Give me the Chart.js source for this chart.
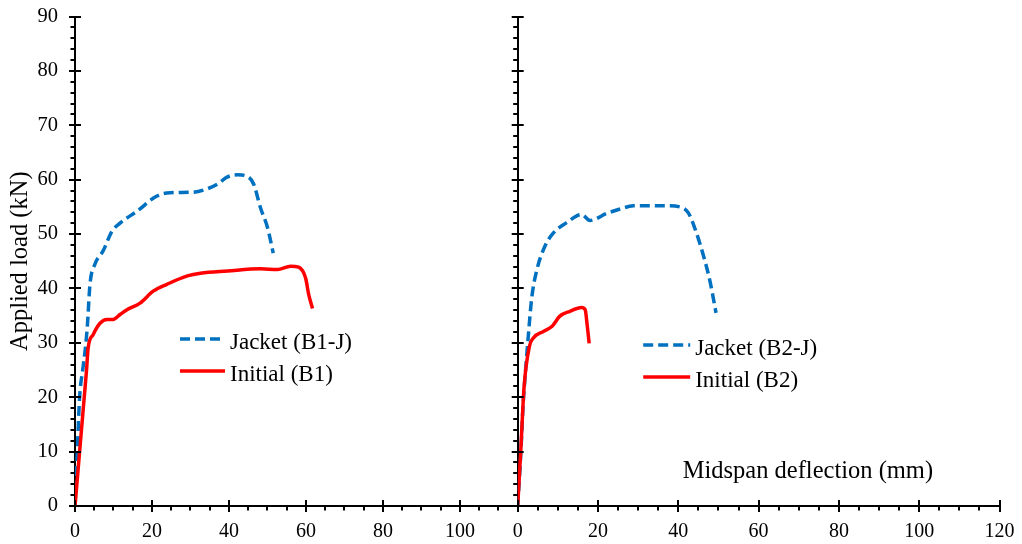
<!DOCTYPE html>
<html>
<head>
<meta charset="utf-8">
<title>Load-deflection B1 / B2</title>
<script src="https://cdn.jsdelivr.net/npm/chart.js@4/dist/chart.umd.min.js"></script>
<style>
  body { margin: 0; background: #fff; }
  #wrap { position: relative; width: 1022px; height: 544px; }
  canvas { position: absolute; top: 0; }
  #leftChart { left: 0; }
  #rightChart { left: 500px; }
</style>
</head>
<body>
<div id="wrap">
  <canvas id="leftChart" width="540" height="544"></canvas>
  <canvas id="rightChart" width="522" height="544"></canvas>
</div>
<script>
// ---- data (deflection mm / load kN) ----
var b1jX = [0, 0.3, 0.6, 1.2, 2.0, 2.6, 3.2, 3.9, 5.2, 7.3, 9.6, 11.7, 16.1, 21.3, 24.7, 30.8, 34.3, 37.0, 39.6, 42.2, 45.0, 46.4, 48.2, 50.0, 51.5];
var b1jY = [0, 5, 10, 20, 25, 28.4, 33, 40.8, 44.5, 46.9, 50.5, 52, 54.2, 57, 57.6, 57.7, 58.3, 59.2, 60.5, 60.9, 60.5, 59.2, 54.8, 51.2, 46.5];
var b1X = [0, 1.2, 2.4, 3.0, 3.4, 4.7, 6.5, 8.3, 9.9, 11.7, 13.5, 16.9, 20.3, 24.0, 29.2, 32.6, 39.6, 48.2, 52.6, 56.0, 58.1, 59.9, 60.7, 61.7];
var b1Y = [0, 10, 20, 25, 29, 31.5, 33.6, 34.3, 34.3, 35.2, 36.1, 37.3, 39.5, 40.8, 42.3, 42.8, 43.2, 43.6, 43.5, 44.1, 43.9, 41.9, 38.9, 36.3];
var b2jX = [0, 0.8, 1.3, 1.8, 2.6, 3.5, 4.7, 6.8, 8.9, 12.2, 15.9, 18.0, 22.2, 25.5, 28.8, 37.1, 40.8, 42.5, 44.1, 46.2, 47.9, 49.4];
var b2jY = [0, 10, 18, 23.4, 30.9, 38.3, 43.2, 47.8, 50.2, 52.1, 53.6, 52.5, 53.8, 54.6, 55.2, 55.2, 54.9, 53.9, 51.1, 46.2, 41.3, 35.5];
var b2X = [0, 0.75, 1.6, 2.9, 3.9, 6.4, 8.5, 10.5, 13.0, 15.9, 16.8, 17.3, 17.8];
var b2Y = [0, 10, 22, 29.3, 30.9, 32.1, 33.0, 34.9, 35.8, 36.5, 36.1, 33.3, 29.9];

// tick labels
var yTicks = [0, 10, 20, 30, 40, 50, 60, 70, 80, 90];
var xTicksLeft = [0, 20, 40, 60, 80, 100];
var xTicksRight = [0, 20, 40, 60, 80, 100, 120];

var serif = '"Liberation Serif", "Times New Roman", serif';
Chart.defaults.font.family = serif;
Chart.defaults.color = '#000';

function pts(xs, ys) { // zip two arrays into {x,y} points
    return xs.map(function (x, i) { return { x: x, y: ys[i] }; });
}

function jacketSet(label, xs, ys) {
    return {
        label: label, data: pts(xs, ys), order: 1,
        borderColor: '#0070C0', borderWidth: 3.5, borderDash: [10, 5],
        pointRadius: 0, fill: false, cubicInterpolationMode: 'monotone'
    };
}
function initialSet(label, xs, ys) {
    return {
        label: label, data: pts(xs, ys), order: 0,
        borderColor: '#FF0000', borderWidth: 3.5,
        pointRadius: 0, fill: false, cubicInterpolationMode: 'monotone'
    };
}

/* major ticks cross the axis, minor ticks sit outside */
var axisMarks = {
    id: 'axisMarks',
    afterDraw: function (chart, args, opts) {
        var ctx = chart.ctx, xs = chart.scales.x, ys = chart.scales.y, a = chart.chartArea;
        ctx.save();
        ctx.strokeStyle = '#000';
        ctx.lineWidth = 2;
        ctx.beginPath();
        for (var v = xs.min; v <= xs.max + 0.001; v += opts.xMinor) {
            var px = Math.round(xs.getPixelForValue(v));
            if (v % opts.xMajor === 0) { ctx.moveTo(px, a.bottom - 6); ctx.lineTo(px, a.bottom + 6); }
            else { ctx.moveTo(px, a.bottom); ctx.lineTo(px, a.bottom + 4.5); }
        }
        for (var w = ys.min; w <= ys.max + 0.001; w += opts.yMinor) {
            var py = Math.round(ys.getPixelForValue(w));
            if (w % opts.yMajor === 0) { ctx.moveTo(a.left - 6, py); ctx.lineTo(a.left + 6, py); }
            else { ctx.moveTo(a.left - 4.5, py); ctx.lineTo(a.left, py); }
        }
        ctx.stroke();
        ctx.restore();
    }
};

/* legend drawn inside the plot + free text note */
var innerLegend = {
    id: 'innerLegend',
    afterDraw: function (chart, args, opts) {
        var ctx = chart.ctx, a = chart.chartArea;
        ctx.save();
        ctx.font = '23px ' + serif;
        ctx.fillStyle = '#000';
        ctx.textBaseline = 'alphabetic';
        chart.data.datasets.forEach(function (ds, i) {
            var x = a.left + opts.x, y = a.top + opts.y + i * opts.gap;
            ctx.beginPath();
            ctx.strokeStyle = ds.borderColor;
            ctx.lineWidth = ds.borderWidth;
            ctx.setLineDash(ds.borderDash || []);
            ctx.moveTo(x, y);
            ctx.lineTo(x + opts.len, y);
            ctx.stroke();
            ctx.fillText(ds.label, x + opts.textOff, y + 10);
        });
        if (opts.note) {
            ctx.font = '24.5px ' + serif;
            ctx.fillText(opts.note, a.left + opts.noteX, a.bottom - opts.noteY);
        }
        ctx.restore();
    }
};

function buildOptions(xMax, xTicks, yWidth, padRight, showY, legendPos) {
    return {
        responsive: false,
        animation: false,
        devicePixelRatio: 1,
        layout: { padding: { left: 0, right: padRight, top: 16.5, bottom: 0 } },
        plugins: {
            legend: { display: false },
            tooltip: { enabled: false },
            axisMarks: { xMinor: 5, xMajor: 20, yMinor: 2, yMajor: 10 },
            innerLegend: legendPos
        },
        scales: {
            x: {
                type: 'linear', min: 0, max: xMax,
                afterBuildTicks: function (s) { s.ticks = xTicks.map(function (v) { return { value: v }; }); },
                afterFit: function (s) { s.height = 38; s.paddingLeft = 0; s.paddingRight = 0; },
                grid: { display: false, drawTicks: false },
                border: { display: true, color: '#000', width: 2 },
                ticks: { font: { size: 20 }, padding: 14, maxRotation: 0 }
            },
            y: {
                type: 'linear', min: 0, max: 90,
                afterBuildTicks: function (s) { s.ticks = yTicks.map(function (v) { return { value: v }; }); },
                afterFit: function (s) { s.width = yWidth; s.paddingTop = 0; s.paddingBottom = 0; },
                grid: { display: false, drawTicks: false },
                border: { display: true, color: '#000', width: 2 },
                ticks: { display: showY, font: { size: 20.5 }, padding: 17 },
                title: {
                    display: showY, text: 'Applied load (kN)',
                    font: { size: 24.5 }, padding: { top: 6, bottom: 0 }
                }
            }
        }
    };
}

new Chart(document.getElementById('leftChart'), {
    type: 'line',
    data: { datasets: [jacketSet('Jacket (B1-J)', b1jX, b1jY), initialSet('Initial (B1)', b1X, b1Y)] },
    options: buildOptions(115, xTicksLeft, 75, 22.3, true,
        { x: 105, y: 322.5, gap: 32, len: 45, textOff: 50 }),
    plugins: [axisMarks, innerLegend]
});

new Chart(document.getElementById('rightChart'), {
    type: 'line',
    data: { datasets: [jacketSet('Jacket (B2-J)', b2jX, b2jY), initialSet('Initial (B2)', b2X, b2Y)] },
    options: buildOptions(120, xTicksRight, 17.7, 22.5, false,
        { x: 125.5, y: 328.5, gap: 32, len: 47, textOff: 52,
          note: 'Midspan deflection (mm)', noteX: 165, noteY: 28 }),
    plugins: [axisMarks, innerLegend]
});
</script>
</body>
</html>
